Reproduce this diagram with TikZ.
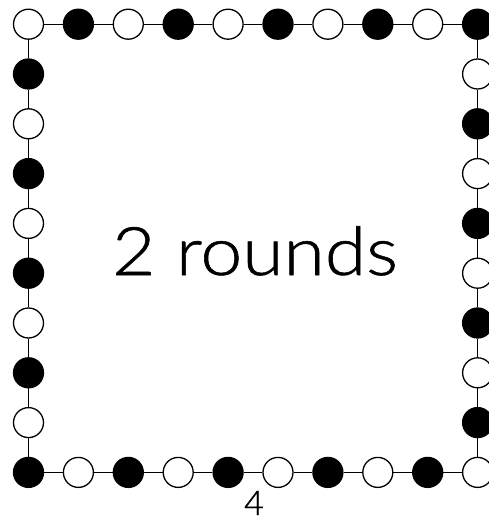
\documentclass[tikz,border=0pt]{standalone}
\usepackage{fontspec}
\setmainfont{Lato}[UprightFont=* Light, FakeBold=0.8]
\begin{document}
\begin{tikzpicture}[x=1pt, y=-1pt,
    bead/.style={circle, draw, line width=1.3pt, minimum size=30pt, inner sep=0pt},
    wbead/.style={bead, fill=white},
    bbead/.style={bead, fill=black},
    link/.style={line width=1.3pt}]
  \useasboundingbox (0,0) rectangle (488,521);
  % ring of 36 beads, clockwise from the top left corner
  \foreach \k in {0,...,35} {
    \pgfmathtruncatemacro{\cx}{\k<=9 ? \k : (\k<=18 ? 9 : (\k<=27 ? 27-\k : 0))}
    \pgfmathtruncatemacro{\cy}{\k<=9 ? 0 : (\k<=18 ? \k-9 : (\k<=27 ? 9 : 36-\k))}
    \pgfmathtruncatemacro{\odd}{mod(\k,2)}
    \ifnum\odd=0
      \node (c\k) [wbead] at (28.5+49.9*\cx, 24.2+49.8*\cy) {};
    \else
      \node (c\k) [bbead] at (28.5+49.9*\cx, 24.2+49.8*\cy) {};
    \fi
  }
  \foreach \k in {0,...,35} {
    \pgfmathtruncatemacro{\nxt}{mod(\k+1,36)}
    \draw[link] (c\k) -- (c\nxt);
  }
  \node (rounds) [anchor=base] at (255,275) {\scalebox{1.12}[1]{\fontsize{67}{67}\selectfont 2 rounds}};
  \node (count) [anchor=base, inner sep=0pt] at (254,515) {\fontsize{34}{34}\selectfont 4};
\end{tikzpicture}
\end{document}
